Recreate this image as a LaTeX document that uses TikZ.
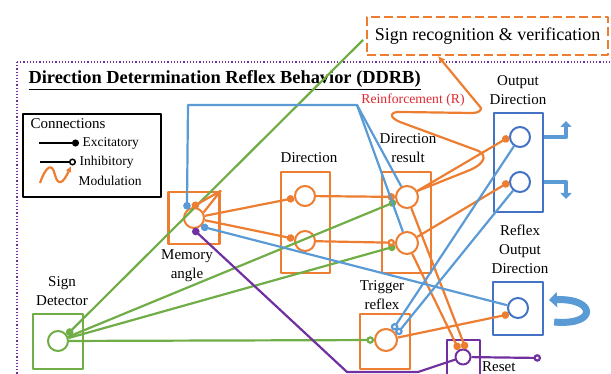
\documentclass[tikz,border=0pt]{standalone}
\usepackage{fontspec}
\setmainfont{Liberation Serif}
\usetikzlibrary{arrows.meta}
\definecolor{ddorange}{HTML}{ED7D31}
\definecolor{ddblue}{HTML}{5B9BD5}
\definecolor{dddarkblue}{HTML}{4472C4}
\definecolor{ddgreen}{HTML}{70AD47}
\definecolor{ddpurple}{HTML}{7030A0}
\definecolor{ddred}{HTML}{E0282E}
\begin{document}
\begin{tikzpicture}[x=1pt,y=-1pt,line join=round,
  modbox/.style={draw,line width=2.3pt,inner sep=0pt},
  neuron/.style={circle,draw,line width=2pt,inner sep=0pt,minimum size=20pt},
  lbl/.style={align=center,font=\fontsize{15}{19}\selectfont},
  legtxt/.style={anchor=west,font=\fontsize{13.5}{16}\selectfont},
  conn/.style={line width=2.2pt},
  exc/.style={conn,-{Circle[length=7.5pt]}},
  inh/.style={conn,-{Circle[open,length=7.5pt]}},
  bigarrow/.style={ddblue,line width=4.5pt,-{Triangle[width=11pt,length=6pt]}}]
  \useasboundingbox (0,0) rectangle (611,374);
  \clip (0,0) rectangle (611,374);
  % frame and headings
  \draw[ddpurple,dotted,line width=1.2pt] (17,62) rectangle (650,420);
  \node[draw=ddorange,dash pattern=on 9pt off 4pt,line width=1.5pt,fill=white,
    minimum width=241pt,minimum height=38pt,font=\fontsize{18}{20}\selectfont]
    (sr) at (487.5,36) {Sign recognition \& verification};
  \node[anchor=west,font=\fontsize{18.4}{20}\selectfont\bfseries] (title) at (25,80)
    {\underline{Direction Determination Reflex Behavior (DDRB)}};
  \node[ddred,font=\fontsize{13.7}{16}\selectfont] (reinlbl) at (413,100) {Reinforcement (R)};
  % legend
  \node[draw,line width=1.5pt,minimum width=138pt,minimum height=83pt] (legend) at (92,155.5) {};
  \node[anchor=west,font=\fontsize{15}{18}\selectfont] (legtitle) at (27,124) {Connections};
  \node[legtxt] (legexc) at (79,143) {Excitatory};
  \node[legtxt] (leginh) at (76,162) {Inhibitory};
  \node[legtxt] (legmod) at (75,181) {Modulation};
  \draw[black,line width=1.5pt,-{Circle[length=7pt]}] ([xshift=-40pt]legexc.west) -- (legexc.west);
  \draw[black,line width=1.5pt,-{Circle[open,length=7pt]}] ([xshift=-36pt]leginh.west) -- (leginh.west);
  \draw[conn,ddorange,-{Latex[length=6pt,width=6pt]}] (40,183) .. controls (46,166) and (52,162) .. (55,175)
    .. controls (58,186) and (63,184) .. (71,166);
  % modules
  \node[modbox,ddgreen,minimum width=50pt,minimum height=55pt] (sdbox) at (58,341.5) {};
  \node[neuron,ddgreen] (sdc) at (58,341) {};
  \node[lbl] (sdlbl) at (62,291) {Sign\\Detector};
  \node[modbox,ddorange,minimum width=51pt,minimum height=52pt] (membox) at (194,218) {};
  \node[neuron,ddorange] (memc) at (194,218) {};
  \node[lbl] (memlbl) at (187,266) {Memory\\angle};
  \node[modbox,ddorange,minimum width=49pt,minimum height=101pt] (dirbox) at (305.5,222.5) {};
  \node[neuron,ddorange] (dirA) at (305,196) {};
  \node[neuron,ddorange] (dirB) at (305,241) {};
  \node[lbl] (dirlbl) at (309,158) {Direction};
  \node[modbox,ddorange,minimum width=49pt,minimum height=101pt] (resbox) at (406.5,222.5) {};
  \node[neuron,ddorange,minimum size=22pt] (resA) at (407,197) {};
  \node[neuron,ddorange,minimum size=22pt] (resB) at (407,243) {};
  \node[lbl] (reslbl) at (408,148) {Direction\\result};
  \node[modbox,dddarkblue,minimum width=49pt,minimum height=99pt] (outbox) at (518.5,162.5) {};
  \node[neuron,dddarkblue] (outA) at (520,137) {};
  \node[neuron,dddarkblue] (outB) at (520,182) {};
  \node[lbl] (outlbl) at (518,90) {Output\\Direction};
  \node[modbox,dddarkblue,minimum width=50pt,minimum height=53pt] (rodbox) at (518,308.5) {};
  \node[neuron,dddarkblue] (rodc) at (518,308) {};
  \node[lbl] (rodlbl) at (520,249) {Reflex\\Output\\Direction};
  \node[modbox,ddorange,minimum width=50pt,minimum height=55pt] (trgbox) at (385,341.5) {};
  \node[neuron,ddorange,minimum size=22pt] (trgc) at (386,340) {};
  \node[lbl] (trglbl) at (382,295) {Trigger\\reflex};
  \node[modbox,ddpurple,line width=1.5pt,minimum width=33pt,minimum height=40pt] (rstbox) at (463.5,360) {};
  \node[neuron,ddpurple,minimum size=15pt] (rstc) at (463,357) {};
  \node[lbl,anchor=base west,inner sep=1pt] (rstlbl) at (481,371) {Reset};
  % bend points
  \coordinate (srpt) at (363,40);
  \coordinate (srin) at (438,56);
  \coordinate (bendR) at (357,105);
  \coordinate (bendL) at (188,105);
  \coordinate (pbR) at (418,372);
  \coordinate (pbL) at (347,372);
  \coordinate (rstout) at (541,358);
  \coordinate (outup) at (566,121);
  \coordinate (outdn) at (566,199);
  % connections
  \draw[exc,ddgreen] (srpt) -- (sdc.35);
  \draw[exc,ddgreen] (sdc) -- (resA);
  \draw[exc,ddgreen] (sdc) -- (resB);
  \draw[inh,ddgreen] (sdc) -- (trgc);
  \draw[exc,ddorange] (memc) -- (dirA);
  \draw[exc,ddorange] (memc) -- (dirB);
  \draw[exc,ddorange] (memc.30) -- (membox.north east) -- (memc.100);
  \draw[exc,ddorange] (dirA) -- (resA);
  \draw[inh,ddorange] (dirB) -- (resB);
  \draw[exc,ddorange] (resA) -- (outA.west);
  \draw[exc,ddorange] (resB) -- (outB.west);
  \draw[exc,ddorange] (resA) -- (rstc.70);
  \draw[exc,ddorange] (resB) -- (rstc.120);
  \draw[exc,ddorange] (trgc) -- (rodc.-145);
  \draw[exc,ddblue] (resA) -- (bendR) -- (bendL) -- (memc.130);
  \draw[conn,ddblue] (resB) -- (bendR);
  \draw[exc,ddblue] (rodc) -- (memc.-50);
  \draw[inh,ddblue] (outA) -- (trgc.57);
  \draw[inh,ddblue] (outB) -- (trgc.28);
  \draw[exc,ddpurple] (rstc) -- (pbR) -- (pbL) -- (memc.-95);
  \draw[inh,ddpurple] (rstc) -- (rstout);
  % reinforcement
  \draw[conn,ddorange,-{Latex[length=7pt,width=7pt]}] (resA.30) -- (470,170)
    .. controls (488,162) and (486,153) .. (476,150) -- (400,122)
    .. controls (388,117) and (390,111) .. (402,112) -- (472,113)
    .. controls (478,113) and (481,111) .. (481,108) -- (srin);
  % outputs
  \draw[bigarrow] (outbox.east |- outA) -| (outup);
  \draw[bigarrow] (outbox.east |- outB) -| (outdn);
  \draw[ddblue,line width=7pt,-{Triangle[width=15pt,length=8pt]}] (rodbox.east |- 0,322) ++(10,0)
    .. controls (598,326) and (596,298) .. (549,300);
\end{tikzpicture}
\end{document}
